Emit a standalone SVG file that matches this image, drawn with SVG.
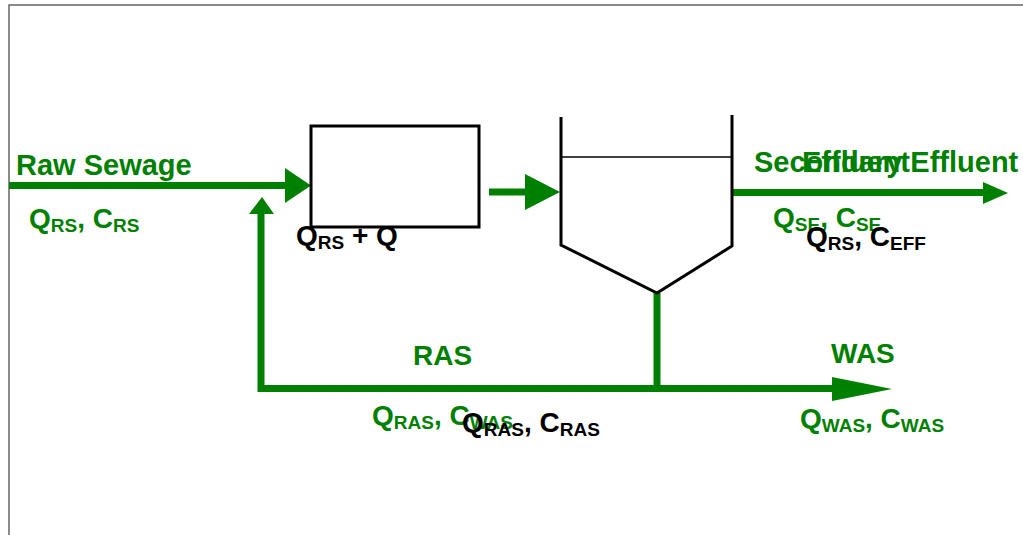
<svg xmlns="http://www.w3.org/2000/svg" width="1023" height="535" viewBox="0 0 1023 535">
<style>
.g{stroke:#008000;stroke-width:7;fill:none}
.h{fill:#008000}
.k{stroke:#000;stroke-width:3;fill:none}
text{font-family:"Liberation Sans",Arial,sans-serif;font-weight:bold;font-size:28px}
.t{font-size:29px}
.tg{fill:#008000}
.tk{fill:#000}
.s{font-size:19px}
</style>
<rect x="9" y="5" width="1030" height="540" fill="#fff" stroke="#666" stroke-width="1.5"/>
<g id="connectors">
<line class="g" x1="9" y1="185.5" x2="288" y2="185.5"/>
<polygon class="h" points="285,168 311,185.5 285,203"/>
<polyline class="g" points="261,212 261,388.5 835,388.5"/>
<polygon class="h" points="249,214 262,197 274,214"/>
<polygon class="h" points="832,377 892,389 832,401"/>
<line class="g" x1="657" y1="293" x2="657" y2="388"/>
<line class="g" x1="489" y1="192" x2="528" y2="192"/>
<polygon class="h" points="525,174 560,192 525,210"/>
<line class="g" x1="733" y1="192.5" x2="986" y2="192.5"/>
<polygon class="h" points="983,182 1008,193 983,204"/>
</g>
<g id="reactor">
<rect class="k" x="311" y="126" width="168" height="101"/>
</g>
<g id="clarifier">
<polyline class="k" points="561,117 561,245 657,293 732,246 732,115"/>
<line x1="561" y1="157" x2="731" y2="157" stroke="#000" stroke-width="1.5"/>
</g>
<g id="labels">
<text class="tg t" x="16" y="175">Raw Sewage</text>
<text class="tg" x="29" y="228">Q<tspan class="s" dy="4">RS</tspan><tspan dy="-4">, C</tspan><tspan class="s" dy="4">RS</tspan></text>
<text class="tk" x="296" y="245">Q<tspan class="s" dy="4">RS</tspan><tspan dy="-4"> + Q</tspan></text>
<text class="tg t" x="754" y="172">Secondary Effluent</text>
<text class="tg t" x="802" y="172">Effluent</text>
<text class="tg" x="773" y="227">Q<tspan class="s" dy="4">SE</tspan><tspan dy="-4">, C</tspan><tspan class="s" dy="4">SE</tspan></text>
<text class="tk" x="806" y="246">Q<tspan class="s" dy="4">RS</tspan><tspan dy="-4">, C</tspan><tspan class="s" dy="4">EFF</tspan></text>
<text class="tg" x="413" y="365">RAS</text>
<text class="tg" x="372" y="425">Q<tspan class="s" dy="4">RAS</tspan><tspan dy="-4">, C</tspan><tspan class="s" dy="4">WAS</tspan></text>
<text class="tk" x="462" y="432">Q<tspan class="s" dy="4">RAS</tspan><tspan dy="-4">, C</tspan><tspan class="s" dy="4">RAS</tspan></text>
<text class="tg" x="831" y="363">WAS</text>
<text class="tg" x="800" y="428">Q<tspan class="s" dy="4">WAS</tspan><tspan dy="-4">, C</tspan><tspan class="s" dy="4">WAS</tspan></text>
</g>
</svg>
